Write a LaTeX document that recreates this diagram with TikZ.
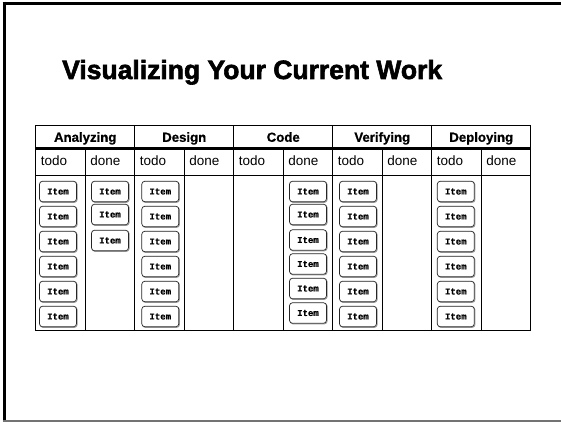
\documentclass[tikz,border=0pt]{standalone}
\usepackage{fontspec}
\setmainfont{Liberation Sans}
\newfontfamily\itemfont{Liberation Mono}[BoldFeatures={FakeBold=0.6}]
\newfontfamily\titlefont{Liberation Sans}[BoldFeatures={FakeBold=2.2}]
\newfontfamily\headfont{Liberation Sans}[BoldFeatures={FakeBold=0.8}]
\tikzset{
  itembox/.style={draw=black!85, line width=0.7pt, fill=white, rounded corners=3pt,
    minimum width=37pt, minimum height=20.5pt, inner sep=0pt,
    font=\itemfont\bfseries\fontsize{9}{10}\selectfont},
  itemshadow/.style={draw=black!40, line width=0.9pt, rounded corners=3pt},
  grouphead/.style={font=\headfont\bfseries\fontsize{13.2}{15}\selectfont, inner sep=0pt, anchor=base},
  subhead/.style={font=\fontsize{13.5}{15}\selectfont, inner sep=0pt, anchor=base west},
  rule/.style={line width=1pt, draw=black},
}
\begin{document}
\begin{tikzpicture}[x=1pt,y=-1pt]
\useasboundingbox (0,0) rectangle (561,422);
% slide frame
\draw[line width=3pt] (2.7,3.2) -- (561,3.2);
\draw[line width=3pt] (4.3,1.7) -- (4.3,422);
\draw[line width=1.5pt, black!55] (2.7,421.2) -- (561,421.2);
% title
\node[anchor=base west, inner sep=0pt, font=\titlefont\bfseries\fontsize{26.5}{30}\selectfont] (title) at (62,79) {Visualizing Your Current Work};
% table
\def\xo{35.75}\def\cw{49.5}
\def\ytop{125.5}\def\ythick{148.5}\def\ysub{175}\def\ybot{330.75}
\draw[line width=1.2pt] (\xo,\ytop) rectangle (530.75,\ybot);
\draw[line width=2.6pt] (\xo,\ythick) -- (530.75,\ythick);
\draw[rule] (\xo,\ysub) -- (530.75,\ysub);
\foreach \i in {2,4,6,8} \draw[rule] ({\xo+\cw*\i},\ytop) -- ({\xo+\cw*\i},\ybot);
\foreach \i in {1,3,5,7,9} \draw[rule] ({\xo+\cw*\i},\ythick) -- ({\xo+\cw*\i},\ybot);
% headers
\foreach \n [count=\k from 0] in {Analyzing,Design,Code,Verifying,Deploying} {
  \node[grouphead] (h\k) at ({\xo+\cw*(2*\k+1)},141.8) {\n};
  \node[subhead] (t\k) at ({\xo+\cw*(2*\k)+4.8},165.5) {todo};
  \node[subhead] (d\k) at ({\xo+\cw*(2*\k+1)+4.8},165.5) {done};
}
% items
\foreach \cx/\cid/\ys in {58/a/{191.5,216.5,241.5,266.5,291.5,316.5},
                          110/b/{191.5,214.5,240.5},
                          160.3/c/{191.5,216.5,241.5,266.5,291.5,316.5},
                          308/d/{191.5,214.5,240,264,288.5,313},
                          358/e/{191.5,216.5,241.5,266.5,291.5,316.5},
                          455.8/f/{191.5,216.5,241.5,266.5,291.5,316.5}} {
  \foreach \y [count=\r] in \ys {
    \draw[itemshadow] ({\cx-18.5+0.7},{\y-10.25+0.7}) rectangle ({\cx+18.5+0.7},{\y+10.25+0.7});
    \node[itembox] (item-\cid-\r) at (\cx,\y) {Item};
  }
}
\end{tikzpicture}
\end{document}
